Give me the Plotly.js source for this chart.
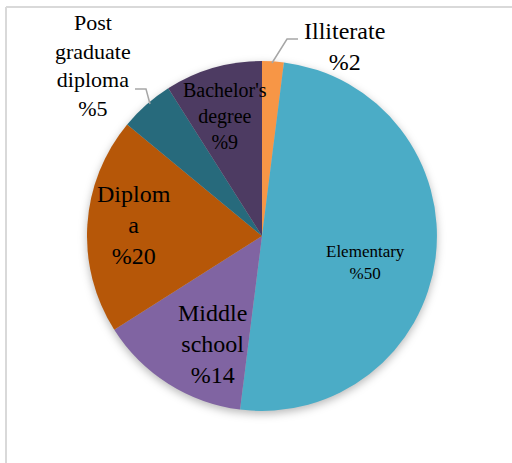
<!DOCTYPE html>
<html>
<head>
<meta charset="utf-8">
<script src="https://cdn.plot.ly/plotly-3.0.1.min.js"></script>
<style>
  html, body { margin: 0; padding: 0; background: #fff; }
  #chart { width: 512px; height: 463px; }
  #chart .pielayer { filter: drop-shadow(0px 3px 4px rgba(0,0,0,0.28)); }
</style>
</head>
<body>
<div id="chart"></div>
<script>
// ---- data ----
const categories = ["Illiterate", "Elementary", "Middle school", "Diploma", "Post graduate diploma", "Bachelor's degree"];
const values = [2, 50, 14, 20, 5, 9];
const colors = ["#F79646", "#4BACC6", "#8064A2", "#B65708", "#276A7C", "#4D3B62"];
const labelLines = [
  ["Illiterate"],
  ["Elementary"],
  ["Middle", "school"],
  ["Diplom", "a"],
  ["Post", "graduate", "diploma"],
  ["Bachelor's", "degree"]
];

// ---- presentation (positions/sizes, px in a 512x463 canvas) ----
const W = 512, H = 463;
const FONT = 'Liberation Serif, Times New Roman, serif';
const labelStyle = [
  {x: 344, y: 46,  size: 24},
  {x: 365, y: 262, size: 17},
  {x: 212, y: 344, size: 24},
  {x: 134, y: 225, size: 24},
  {x: 93,  y: 66,  size: 22},
  {x: 225, y: 116, size: 20}
];

const px = x => x / W;
const py = y => 1 - y / H;

const annotations = categories.map((c, i) => ({
  xref: 'paper', yref: 'paper',
  x: px(labelStyle[i].x), y: py(labelStyle[i].y),
  xanchor: 'center', yanchor: 'middle',
  showarrow: false,
  align: 'center',
  text: labelLines[i].concat(['%' + values[i]]).join('<br>'),
  font: {family: FONT, size: labelStyle[i].size, color: '#000'}
}));

const lineStyle = {color: '#A6A6A6', width: 1.5};
const shapes = [
  // chart frame (top and left edges)
  {type: 'line', xref: 'paper', yref: 'paper', x0: px(6), x1: 1, y0: py(7), y1: py(7), line: {color: '#D9D9D9', width: 2}},
  {type: 'line', xref: 'paper', yref: 'paper', x0: px(6), x1: px(6), y0: py(7), y1: 0, line: {color: '#D9D9D9', width: 2}},
  // leader lines
  {type: 'path', xref: 'paper', yref: 'paper',
   path: `M ${px(272)} ${py(63)} L ${px(287)} ${py(39)} L ${px(298)} ${py(39)}`, line: lineStyle},
  {type: 'path', xref: 'paper', yref: 'paper',
   path: `M ${px(150)} ${py(104)} L ${px(146)} ${py(89)} L ${px(135)} ${py(89)}`, line: lineStyle}
];

const trace = {
  type: 'pie',
  labels: categories,
  values: values,
  sort: false,
  direction: 'clockwise',
  rotation: 0,
  marker: {colors: colors, line: {width: 0}},
  textinfo: 'none',
  hoverinfo: 'skip',
  showlegend: false,
  domain: {x: [px(87), px(437)], y: [py(411), py(61)]}
};

const layout = {
  width: W, height: H,
  margin: {l: 0, r: 0, t: 0, b: 0},
  paper_bgcolor: '#fff',
  font: {family: FONT},
  showlegend: false,
  annotations: annotations,
  shapes: shapes
};

Plotly.newPlot('chart', [trace], layout, {staticPlot: true, displayModeBar: false});
</script>
</body>
</html>
